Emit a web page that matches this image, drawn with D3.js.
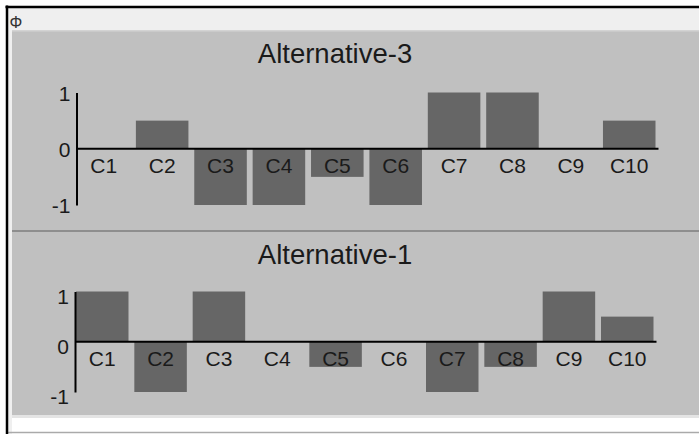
<!DOCTYPE html>
<html>
<head>
<meta charset="utf-8">
<script src="https://cdn.jsdelivr.net/npm/d3@7"></script>
<style>
  body { margin: 0; background: #fff; }
  svg { display: block; font-family: "Liberation Sans", Arial, sans-serif; }
</style>
</head>
<body>
<svg id="chart" width="699" height="434"></svg>
<script>
// Values
const categories = ['C1', 'C2', 'C3', 'C4', 'C5', 'C6', 'C7', 'C8', 'C9', 'C10'];
const alternative3 = [0, 0.5, -1, -1, -0.5, -1, 1, 1, 0, 0.5];
const alternative1 = [1, -1, 1, 0, -0.5, 0, -1, -0.5, 1, 0.5];
const yTicks = [-1, 0, 1];
const panelTitles = ['Alternative-3', 'Alternative-1'];

const svg = d3.select('#chart');

// Window frame around the two panels
svg.append('rect').attr('x', 8).attr('y', 8).attr('width', 691).attr('height', 22).attr('fill', '#efefef');
svg.append('rect').attr('x', 8).attr('y', 30).attr('width', 4).attr('height', 404).attr('fill', '#efefef');
svg.append('rect').attr('x', 12).attr('y', 30).attr('width', 687).attr('height', 385).attr('fill', '#c0c0c0');
svg.append('rect').attr('x', 12).attr('y', 30).attr('width', 687).attr('height', 1.5).attr('fill', '#d3d3d3');
svg.append('rect').attr('x', 12).attr('y', 415).attr('width', 687).attr('height', 3).attr('fill', '#e4e4e4');
svg.append('rect').attr('x', 12).attr('y', 230).attr('width', 687).attr('height', 2).attr('fill', '#8e8e8e');
svg.append('line').attr('x1', 8).attr('x2', 699).attr('y1', 432.5).attr('y2', 432.5)
  .attr('stroke', '#aaa').attr('stroke-width', 1.5);
svg.append('line').attr('x1', 5.5).attr('x2', 699).attr('y1', 7).attr('y2', 7)
  .attr('stroke', '#000').attr('stroke-width', 2.5);
svg.append('line').attr('x1', 7).attr('x2', 7).attr('y1', 5.5).attr('y2', 434)
  .attr('stroke', '#000').attr('stroke-width', 2.5);
svg.append('text').attr('x', 16).attr('y', 27.5).attr('text-anchor', 'middle')
  .attr('font-size', 16).attr('fill', '#333').text('Φ');

// Layout of each panel
const panels = [
  { title: panelTitles[0], values: alternative3, titleY: 63, xRange: [77.5, 655.5], yRange: [205, 92.5], tickDy: 2 },
  { title: panelTitles[1], values: alternative1, titleY: 264, xRange: [76, 653.5], yRange: [392, 291.5], tickDy: 6 }
];

panels.forEach(p => {
  const x = d3.scaleBand().domain(categories).range(p.xRange).paddingInner(0.1).paddingOuter(0);
  const y = d3.scaleLinear().domain([-1, 1]).range(p.yRange);
  const g = svg.append('g');

  g.append('text')
    .attr('x', 335).attr('y', p.titleY)
    .attr('text-anchor', 'middle')
    .attr('font-size', 27.5)
    .attr('fill', '#1a1a1a')
    .text(p.title);

  // Bars
  g.selectAll('rect.bar').data(p.values)
    .enter().append('rect')
      .attr('class', 'bar')
      .attr('x', (d, i) => x(categories[i]))
      .attr('y', d => Math.min(y(d), y(0)))
      .attr('width', x.bandwidth())
      .attr('height', d => Math.abs(y(d) - y(0)))
      .attr('fill', '#666');

  // Zero line
  g.append('line')
    .attr('x1', p.xRange[0] - 1).attr('x2', p.xRange[1] + 3)
    .attr('y1', y(0)).attr('y2', y(0))
    .attr('stroke', '#000').attr('stroke-width', 2);

  // Category labels sit on the zero line
  g.selectAll('text.cat').data(categories)
    .enter().append('text')
      .attr('class', 'cat')
      .attr('x', d => x(d) + x.bandwidth() / 2)
      .attr('y', y(0) + 24)
      .attr('text-anchor', 'middle')
      .attr('font-size', 21)
      .attr('fill', '#1a1a1a')
      .text(d => d);

  // Y axis
  const axis = g.append('g')
    .attr('transform', `translate(${p.xRange[0] - 1},0)`)
    .call(d3.axisLeft(y).tickValues(yTicks).tickSize(0).tickPadding(6).tickFormat(d => String(d)));
  axis.select('.domain').attr('stroke', '#000').attr('stroke-width', 2);
  axis.selectAll('text')
    .attr('font-size', 21)
    .attr('font-family', '"Liberation Sans", Arial, sans-serif')
    .attr('fill', '#1a1a1a')
    .attr('dy', null)
    .attr('y', p.tickDy)
    .attr('dominant-baseline', 'middle');
});
</script>
</body>
</html>
